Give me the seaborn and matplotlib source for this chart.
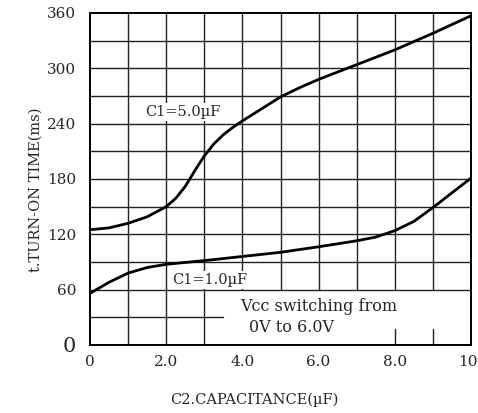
import matplotlib
matplotlib.use("Agg")
import matplotlib.pyplot as plt
import matplotlib.transforms as mtransforms
import seaborn as sns
import pandas as pd

# ---- data ----
c2_c1_5 = [0, 0.5, 1, 1.5, 2, 2.25, 2.5, 2.75, 3, 3.25, 3.5, 3.75, 4, 4.5, 5, 5.5, 6, 7, 8, 9, 10]
t_c1_5 = [125, 127, 132, 139, 150, 159, 172, 189, 205, 218, 228, 236, 243, 256, 269, 279, 288, 304, 320, 338, 357]

c2_c1_1 = [0, 0.5, 1, 1.5, 2, 3, 4, 5, 6, 7, 7.5, 8, 8.5, 9, 9.5, 10]
t_c1_1 = [56, 68, 78, 84, 87.5, 91.5, 96, 100.5, 106.5, 113, 117, 124, 134, 149, 165, 181]

series_labels = ["C1=5.0\u00b5F", "C1=1.0\u00b5F"]
x_ticks = [0, 2, 4, 6, 8, 10]
x_tick_labels = ["0", "2.0", "4.0", "6.0", "8.0", "10"]
y_ticks = [60, 120, 180, 240, 300, 360]
y_tick_labels = ["60", "120", "180", "240", "300", "360"]
x_label = "C2.CAPACITANCE(\u00b5F)"
y_label = "t.TURN-ON TIME(ms)"
note_lines = ["Vcc switching from", "0V to 6.0V"]

df = pd.concat([
    pd.DataFrame({"C2": c2_c1_5, "t": t_c1_5, "series": series_labels[0]}),
    pd.DataFrame({"C2": c2_c1_1, "t": t_c1_1, "series": series_labels[1]}),
])

sns.set_style("white")
plt.rcParams["font.family"] = ["DejaVu Serif"]

fig = plt.figure(figsize=(4.78, 4.13), dpi=100)
ax = fig.add_axes([90/478, 1-345/413, (471-90)/478, (345-13)/413])

# grid (drawn manually to reproduce the cut-out region)
gc = "#222222"
glw = 1.0
for xv in range(1, 10):
    ymin = 0 if xv <= 3 else 60
    ax.plot([xv, xv], [ymin, 360], color=gc, lw=glw, zorder=1)
for yv in range(60, 360, 30):
    ax.plot([0, 10], [yv, yv], color=gc, lw=glw, zorder=1)
ax.plot([0, 3.5], [30, 30], color=gc, lw=glw, zorder=1)
for xv in (8, 9):
    ax.plot([xv, xv], [0, 17], color=gc, lw=glw, zorder=1)

sns.lineplot(data=df, x="C2", y="t", hue="series", palette=["black", "black"],
             linewidth=2.0, legend=False, ax=ax, zorder=3, sort=False,
             estimator=None)

ax.text(1.45, 253, series_labels[0], fontsize=10.5, ha="left", va="center", zorder=4,
        bbox=dict(facecolor="white", edgecolor="none", pad=1.5))
ax.text(2.15, 70, series_labels[1], fontsize=10.5, ha="left", va="center", zorder=4,
        bbox=dict(facecolor="white", edgecolor="none", pad=1.5))
ax.text(3.93, 42, note_lines[0], fontsize=11.5, ha="left", va="center", zorder=4)
ax.text(4.17, 19, note_lines[1], fontsize=11.5, ha="left", va="center", zorder=4)

ax.set_xlim(0, 10)
ax.set_ylim(0, 360)
ax.set_xticks(x_ticks)
ax.set_xticklabels(x_tick_labels, fontsize=11)
ax.set_yticks([0] + y_ticks)
ax.set_yticklabels(["0"] + y_tick_labels, fontsize=11)
ax.get_yticklabels()[0].set_fontsize(15)
ax.tick_params(axis="both", length=0)
ax.tick_params(axis="y", pad=10)
ax.tick_params(axis="x", pad=7)
last = ax.get_xticklabels()[-1]
last.set_transform(last.get_transform() + mtransforms.ScaledTranslation(-3/100, 0, fig.dpi_scale_trans))
ax.set_xlabel("")
ax.set_ylabel("")
for s in ax.spines.values():
    s.set_color("black")
    s.set_linewidth(1.4)
    s.set_visible(True)

fig.text(254/478, 1-400/413, x_label, fontsize=10.5, ha="center", va="center")
fig.text(36/478, 1-190/413, y_label, fontsize=10.5, ha="center", va="center", rotation=90)

fig.savefig("out.png", dpi=100, facecolor="white")
